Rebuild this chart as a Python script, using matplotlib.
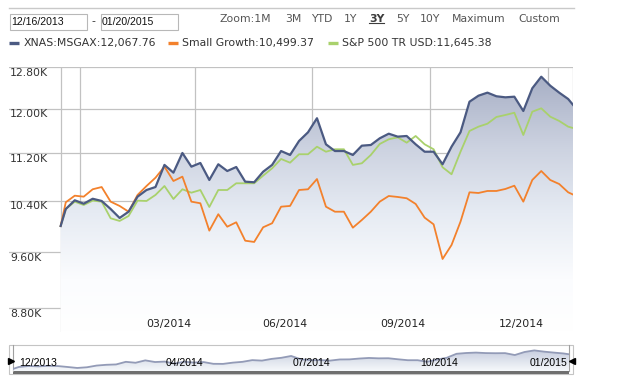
import matplotlib
matplotlib.use('Agg')
import matplotlib.pyplot as plt
import matplotlib.dates as mdates
from matplotlib.colors import LinearSegmentedColormap
from matplotlib.patches import Rectangle
import numpy as np
import pandas as pd

# growth of 10K, weekly (Friday) values
start_date = pd.Timestamp('2013-12-16')
end_date = pd.Timestamp('2015-01-20')
dates = pd.DatetimeIndex([start_date]).append(
    pd.date_range('2013-12-20', '2015-01-16', freq='W-FRI')).append(pd.DatetimeIndex([end_date]))

msgax = [10000, 10268, 10408, 10353, 10433, 10397, 10268, 10126, 10225, 10467,
         10576, 10625, 10997, 10865, 11203, 10967, 11030, 10742, 11008, 10893,
         10961, 10714, 10704, 10881, 10997, 11237, 11168, 11414, 11569, 11825,
         11355, 11237, 11237, 11168, 11331, 11343, 11462, 11544, 11491, 11503,
         11355, 11225, 11225, 11008, 11313, 11569, 12133, 12247, 12305, 12236,
         12216, 12228, 11959, 12389, 12614, 12439, 12305, 12184, 12067.76]
small_growth = [10000, 10376, 10483, 10467, 10588, 10625, 10386, 10317, 10225, 10495,
                10642, 10780, 10967, 10725, 10798, 10386, 10360, 9928, 10185, 9989,
                10058, 9774, 9755, 9980, 10043, 10305, 10317, 10576, 10588, 10758,
                10305, 10225, 10225, 9974, 10094, 10225, 10386, 10478, 10462, 10441,
                10349, 10131, 10026, 9500, 9709, 10068, 10538, 10527, 10560, 10560,
                10593, 10647, 10386, 10742, 10893, 10742, 10675, 10538, 10499.37]
sp500 = [10000, 10268, 10386, 10332, 10402, 10386, 10121, 10079, 10157, 10402,
         10397, 10495, 10642, 10429, 10588, 10532, 10576, 10300, 10576, 10576,
         10687, 10687, 10687, 10815, 10939, 11099, 11035, 11181, 11181, 11313,
         11225, 11268, 11268, 10997, 11025, 11168, 11361, 11444, 11479, 11384,
         11503, 11355, 11268, 10957, 10838, 11225, 11593, 11671, 11725, 11848,
         11885, 11927, 11521, 11946, 12009, 11854, 11775, 11671, 11645.38]

series_names = ['XNAS:MSGAX', 'Small Growth', 'S&P 500 TR USD']
series_colors = ['#4b5a82', '#f3812c', '#a9d16c']

y_ticks = [8800, 9600, 10400, 11200, 12000, 12800]
y_labels = ['8.80K', '9.60K', '10.40K', '11.20K', '12.00K', '12.80K']
grid_dates = pd.to_datetime(['2013-12-31', '2014-03-31', '2014-06-30', '2014-09-30', '2014-12-31'])
x_labels = ['03/2014', '06/2014', '09/2014', '12/2014']
nav_labels = ['12/2013', '04/2014', '07/2014', '10/2014', '01/2015']
nav_label_dates = pd.to_datetime(['2014-04-01', '2014-07-01', '2014-10-01'])
zoom_buttons = ['Zoom:1M', '3M', 'YTD', '1Y', '3Y', '5Y', '10Y', 'Maximum', 'Custom']
zoom_x = [220, 285, 311, 344, 369, 396, 420, 452, 518]

W, H = 627, 388
fig = plt.figure(figsize=(W / 100, H / 100), dpi=100)
plt.rcParams['font.family'] = 'DejaVu Sans'


def fig_rect(left, top, right, bottom):
    return [left / W, (H - bottom) / H, (right - left) / W, (bottom - top) / H]


def gradient_fill(ax, x, y, base, stops):
    cmap = LinearSegmentedColormap.from_list('g', stops)
    poly = ax.fill_between(x, y, base, color='none', lw=0)
    grad = np.linspace(0, 1, 256).reshape(-1, 1)
    im = ax.imshow(grad, extent=(0, 1, 0, 1), transform=ax.transAxes, origin='lower',
                   aspect='auto', cmap=cmap, zorder=1, interpolation='bilinear')
    im.set_clip_path(poly.get_paths()[0], transform=ax.transData)


# overlay in pixel coordinates for header / frame bits
ov = fig.add_axes([0, 0, 1, 1])
ov.set_xlim(0, W)
ov.set_ylim(H, 0)
ov.axis('off')
ov.patch.set_visible(False)

ov.plot([9, 574], [8.3, 8.3], color='#c9c9c9', lw=1.0)
for bx, txt in [(9.5, '12/16/2013'), (100.5, '01/20/2015')]:
    ov.add_patch(Rectangle((bx, 13.5), 77, 16, fc='white', ec='#b8b8b8', lw=0.8))
    ov.text(bx + 1.5, 22, txt, fontsize=7.6, family='Liberation Sans', va='center', ha='left', color='#111111')
ov.text(93, 21, '-', fontsize=7.8, va='center', ha='center', color='#333333')

for lbl, zx in zip(zoom_buttons, zoom_x):
    bold = lbl == '3Y'
    ov.text(zx, 18.5, lbl, fontsize=7.8, va='center', ha='left',
            color='#3c3c3c' if bold else '#555555', fontweight='bold' if bold else 'normal')
ov.plot([369.3, 383.5], [23, 23], color='#3c3c3c', lw=0.8)

series = [msgax, small_growth, sp500]
legend_x = [9.3, 168, 328]
for name, vals, col, lx in zip(series_names, series, series_colors, legend_x):
    ov.plot([lx, lx + 9.5], [42.7, 42.7], color=col, lw=2.4, solid_capstyle='butt')
    ov.text(lx + 14, 42.7, f'{name}:{vals[-1]:,.2f}', fontsize=7.8, va='center', ha='left', color='#333333')

# main chart
ax = fig.add_axes(fig_rect(9, 67.3, 573.3, 332))
ax.set_zorder(2)
ax.patch.set_visible(False)
xnum = mdates.date2num(dates)
x0 = mdates.date2num(start_date)
x1 = mdates.date2num(end_date)
ax.set_xlim(x0 - 40.3, x1)
ax.set_yscale('log')
ymin, ymax = 8480, 12800
ax.set_ylim(ymin, ymax)
for s in ax.spines.values():
    s.set_visible(False)
ax.set_xticks([])
ax.set_yticks([])
ax.minorticks_off()

gradient_fill(ax, xnum, msgax, ymin,
              [(0, '#ffffff'), (0.2, '#fbfcfe'), (0.45, '#e6ebf3'), (0.7, '#ccd2e0'), (1.0, '#a3abc2')])

for yt, yl in zip(y_ticks, y_labels):
    ax.axhline(yt, color='#c2c2c2', lw=0.9, zorder=0.5)
    ax.annotate(yl, xy=(0, yt), xycoords=('axes fraction', 'data'), xytext=(1, -5.5),
                textcoords='offset pixels', ha='left', va='center', fontsize=7.8, color='#333333')
for gx in [x0, *mdates.date2num(grid_dates), x1]:
    ax.axvline(gx, color='#c2c2c2', lw=0.9, zorder=0.5)
for gd, xl in zip(grid_dates[1:], x_labels):
    ax.annotate(xl, xy=(mdates.date2num(gd), 0), xycoords=('data', 'axes fraction'), xytext=(-4, 8.5),
                textcoords='offset pixels', ha='right', va='center', fontsize=7.8, color='#222222')

ax.plot(xnum, sp500, color=series_colors[2], lw=1.3, zorder=3)
ax.plot(xnum, small_growth, color=series_colors[1], lw=1.3, zorder=3)
ax.plot(xnum, msgax, color=series_colors[0], lw=1.6, zorder=4)

# navigator
ov.add_patch(Rectangle((9.3, 345), 563.4, 29, fc='white', ec='#c4c4c4', lw=0.8))
ov.add_patch(Rectangle((13.3, 371), 555.7, 3, fc='#6f6f6f', ec='none'))
nav = fig.add_axes(fig_rect(13.3, 345.5, 569, 371))
nav.set_zorder(2)
nav.patch.set_visible(False)
nav.set_xlim(x0, x1)
nav.set_ylim(9696, 13309)
nav.axis('off')
gradient_fill(nav, xnum, msgax, 9696, [(0, '#f6f8fb'), (1.0, '#bcc4d8')])
nav.plot(xnum, msgax, color='#939bb7', lw=1.3, zorder=3)
nav.annotate(nav_labels[0], xy=(0, 0.33), xycoords='axes fraction', xytext=(6, 0),
             textcoords='offset pixels', ha='left', va='center', fontsize=7.5, family='Liberation Sans')
for nd, nl in zip(nav_label_dates, nav_labels[1:4]):
    nav.annotate(nl, xy=(mdates.date2num(nd), 0.33), xycoords=('data', 'axes fraction'), xytext=(5.5, 0),
                 textcoords='offset pixels', ha='left', va='center', fontsize=7.5, family='Liberation Sans')
nav.annotate(nav_labels[4], xy=(1, 0.33), xycoords='axes fraction', xytext=(-2, 0),
             textcoords='offset pixels', ha='right', va='center', fontsize=7.5, family='Liberation Sans')
ov.plot([13.3, 13.3], [345, 371], color='#a0a0a0', lw=0.8)
ov.plot([569.3, 569.3], [345, 371], color='#a0a0a0', lw=0.8)
ov.plot([10.5], [361], marker='>', color='black', ms=4.5, clip_on=False)
ov.plot([571.8], [361], marker='<', color='black', ms=4.5, clip_on=False)

fig.savefig('out.png', dpi=100)
